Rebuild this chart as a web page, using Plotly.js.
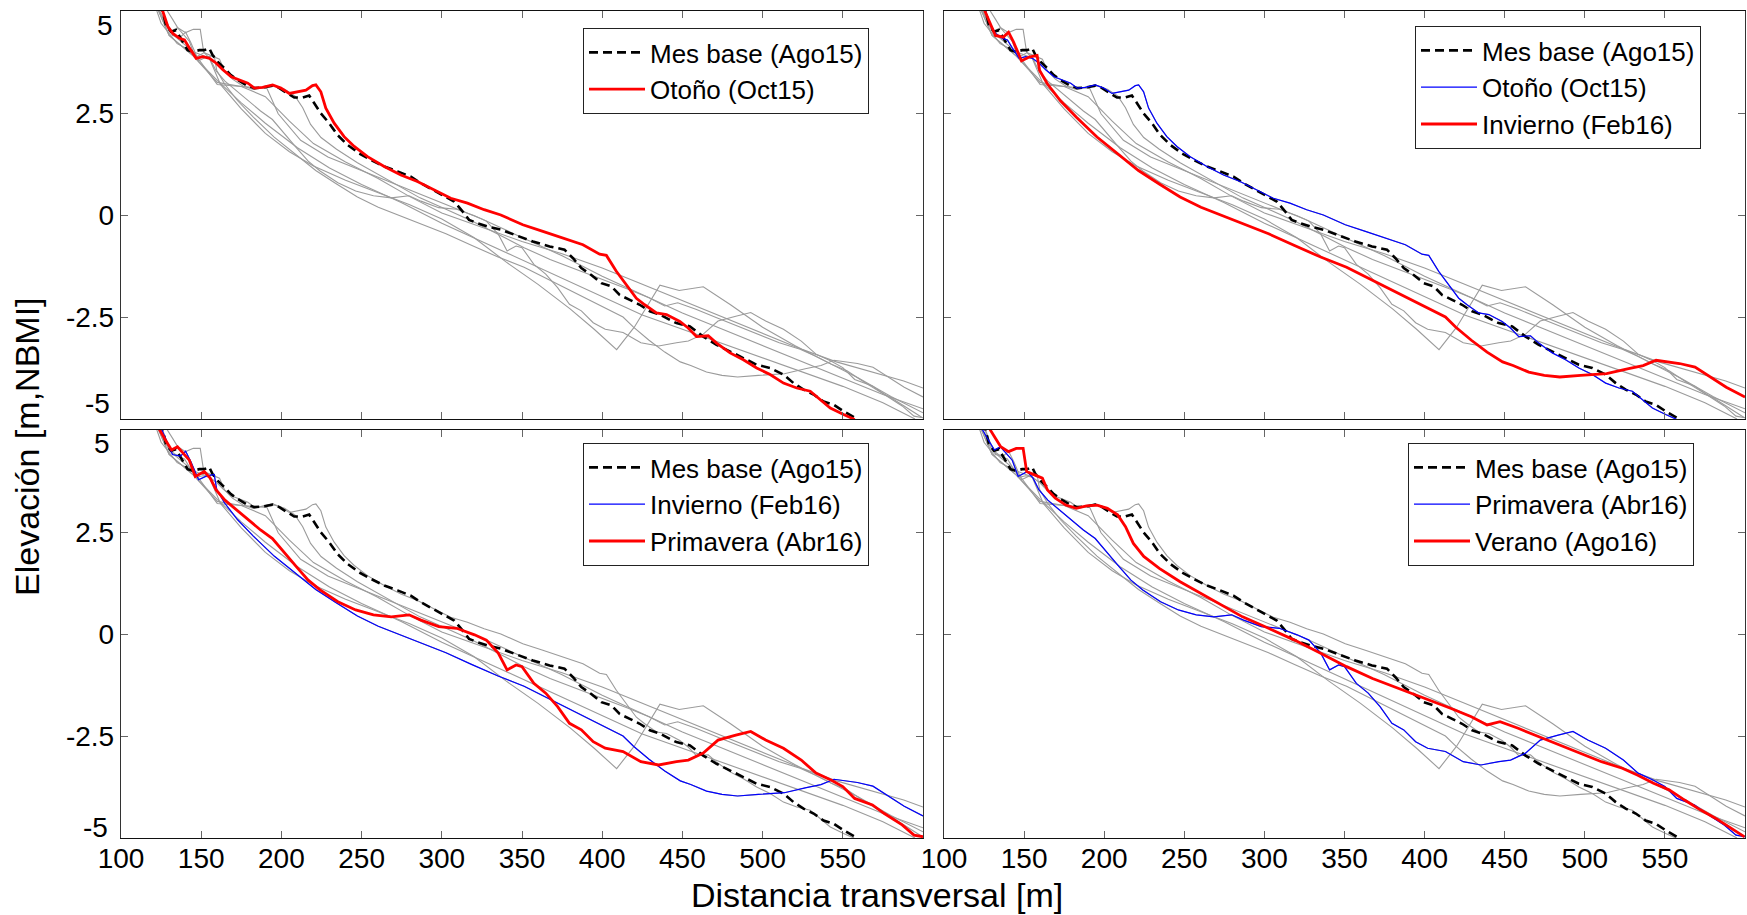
<!DOCTYPE html>
<html>
<head>
<meta charset="utf-8">
<script src="https://cdn.plot.ly/plotly-3.0.1.min.js"></script>
<style>html,body{margin:0;padding:0;background:#fff;}#chart{width:1747px;height:915px;}</style>
</head>
<body>
<div id="chart"></div>
<script>
// ---- Data ----
const xTickVals = [100,150,200,250,300,350,400,450,500,550];
const yTickVals = [-2.5,0,2.5];
const yTickText = ['-2.5','0','2.5'];

const legendMes = 'Mes base (Ago15)';
const legendOct15 = 'Otoño (Oct15)';
const legendFeb16 = 'Invierno (Feb16)';
const legendAbr16 = 'Primavera (Abr16)';
const legendAgo16 = 'Verano (Ago16)';

const ago15_x = [120,126,128,131.2,134.3,137.4,141.5,144.7,148.8,151.9,155,157.1,160.2,164.4,168.5,172.7,177.9,183.1,189.3,194.5,198.7,203.8,208,213.2,217.3,220.5,224.6,229.8,235,241.2,248.5,255.8,264.1,272.4,280.7,286.9,294.2,300.4,307.7,312.9,317,322.2,328.5,336.8,346.3,356.8,367.2,376.5,381.8,387,393.2,399.5,405.7,410.9,417.2,423.4,429.7,435.9,442.2,446.3,454.7,463,471.3,479.7,488,496.3,504.7,513,519.3,525.5,531.8,538,544.3,550.5,558.8,562];
const ago15_y = [5.5,5.0,4.66,4.49,4.53,4.33,4.04,4.0,4.04,4.04,4.09,3.92,3.76,3.6,3.43,3.31,3.19,3.11,3.13,3.17,3.11,2.98,2.88,2.88,2.93,2.74,2.49,2.25,1.96,1.72,1.51,1.35,1.19,1.07,0.94,0.78,0.62,0.49,0.33,0.09,-0.12,-0.2,-0.28,-0.36,-0.49,-0.65,-0.77,-0.85,-1.06,-1.3,-1.47,-1.67,-1.75,-1.96,-2.08,-2.2,-2.36,-2.44,-2.57,-2.65,-2.73,-2.98,-3.18,-3.34,-3.51,-3.67,-3.75,-3.91,-4.12,-4.28,-4.4,-4.57,-4.65,-4.81,-5.0,-5.2];

const oct15_x = [120,126,129.2,132.3,136.5,139.6,142.7,146.9,151,155.2,159.4,163.5,168.7,173.9,179.1,183.2,188.3,194.5,199.7,204.9,210.1,215.3,219.4,221.5,224.6,227.7,232.9,239.1,245.4,253.7,264.1,274.5,284.8,295.2,305.6,316,326.4,336.8,350.5,363,375.5,388,398.4,402.6,408.8,415.1,421.3,426.5,433.8,440.1,448.4,453.6,458.8,466.1,471.3,479.7,488,496.3,504.7,513,521.3,529.7,535.9,542.2,550.5,556.8,560];
const oct15_y = [5.5,5.0,4.62,4.45,4.33,4.29,4.09,3.84,3.88,3.84,3.72,3.56,3.39,3.31,3.23,3.11,3.13,3.19,3.11,2.98,3.02,3.06,3.17,3.19,3.02,2.62,2.25,1.92,1.68,1.43,1.19,0.98,0.82,0.62,0.41,0.29,0.13,0.0,-0.24,-0.4,-0.57,-0.73,-0.96,-0.99,-1.38,-1.71,-2.04,-2.2,-2.4,-2.44,-2.61,-2.77,-2.98,-2.96,-3.14,-3.38,-3.55,-3.75,-3.91,-4.12,-4.24,-4.32,-4.52,-4.73,-4.89,-5.0,-5.2];

const feb16_x = [120,125.6,128.9,132.1,137,140.3,143.5,148.4,153.2,158.1,159.7,164.6,172.7,182.5,195.5,208.4,221.4,234.4,247.4,260.4,273.4,286.4,302.6,318.8,335.1,351.3,367.5,383.8,400,413,419.5,429.2,439,448.7,455.2,465,474.7,484.4,497.4,513.6,526.6,536.4,544.5,559.1,568.8,578.6,588.3,600];
const feb16_y = [5.5,5.0,4.68,4.4,4.36,4.48,4.23,3.78,3.87,3.91,3.54,3.21,2.8,2.4,1.91,1.5,1.09,0.76,0.44,0.19,-0.01,-0.22,-0.46,-0.75,-1.03,-1.28,-1.6,-1.93,-2.26,-2.5,-2.75,-3.07,-3.36,-3.6,-3.69,-3.85,-3.93,-3.97,-3.93,-3.89,-3.77,-3.69,-3.56,-3.64,-3.73,-3.97,-4.22,-4.46];

const abr16_x = [120,124.1,127.8,131.5,135.2,138.9,142.6,146.3,151.9,155.6,159.3,164.8,172.2,179.6,187,194.4,201.9,209.3,216.7,224.1,235.2,246.3,257.4,268.5,279.6,287,298.1,309.3,320.4,327.8,335.2,340.7,346.3,350,357.4,364.8,372.2,379.6,387,394.4,401.9,413,424.1,435.2,446.3,453.7,463,472.2,483.3,492.6,501.9,513,524.1,533.3,542.6,550,557.4,568.5,575.9,587,594.4,600];
const abr16_y = [5.5,5.0,4.75,4.51,4.59,4.43,4.26,3.86,3.98,3.82,3.53,3.28,3.04,2.79,2.55,2.34,1.98,1.65,1.32,1.08,0.79,0.59,0.47,0.42,0.47,0.34,0.18,0.14,-0.02,-0.15,-0.47,-0.88,-0.76,-0.8,-1.21,-1.45,-1.78,-2.19,-2.35,-2.64,-2.8,-2.88,-3.13,-3.21,-3.13,-3.09,-2.92,-2.6,-2.48,-2.39,-2.6,-2.8,-3.09,-3.41,-3.58,-3.74,-4.03,-4.19,-4.4,-4.68,-4.93,-4.97];

const ago16_x = [125,128.9,132.1,135.4,140.3,145.1,149.4,151.6,156.5,161.4,164.6,169.5,176,182.5,189,195.5,202,208.4,213.3,218.2,224.7,234.4,247.4,260.4,273.4,286.4,302.6,318.8,335.1,351.3,367.5,383.8,400,416.2,429.2,439,447.1,458.4,471.4,484.4,497.4,510.4,523.4,533.1,542.9,552.6,562.3,572.1,581.8,591.6,599.7];
const ago16_y = [5.5,5.0,4.8,4.59,4.47,4.55,4.55,3.98,3.9,3.82,3.53,3.33,3.16,3.08,3.14,3.16,3.08,2.92,2.63,2.22,1.9,1.61,1.28,1.0,0.71,0.42,0.14,-0.15,-0.47,-0.8,-1.09,-1.33,-1.58,-1.82,-2.03,-2.23,-2.15,-2.31,-2.52,-2.72,-2.92,-3.13,-3.29,-3.46,-3.66,-3.82,-4.07,-4.31,-4.52,-4.76,-4.97];

// other monthly profiles (grey)
const gris1_x = [118,125,135,145,155,162,175,190,205,220,240,260,280,300,320,340,360,380,395,409,420,436,448,463,480,500,520,540,560,580,600];
const gris1_y = [5.5,4.7,4.2,4.0,3.85,3.2,2.6,2.0,1.55,1.2,0.85,0.55,0.25,-0.1,-0.55,-1.15,-1.7,-2.3,-2.8,-3.3,-2.75,-1.72,-1.85,-1.76,-2.2,-2.75,-3.2,-3.6,-4.0,-4.45,-4.85];
const gris2_x = [118,130,145,160,175,190,205,220,240,260,280,300,325,350,375,400,425,450,475,500,525,546,567,588,600];
const gris2_y = [5.5,4.4,3.9,3.25,3.15,2.9,2.3,1.75,1.3,0.9,0.45,0.05,-0.3,-0.65,-0.95,-1.3,-1.7,-2.1,-2.5,-2.9,-3.3,-3.6,-3.84,-4.07,-4.24];
const gris3_x = [118,130,145,160,175,190,210,230,250,275,300,325,350,375,400,425,450,475,500,525,550,575,595];
const gris3_y = [5.5,4.4,3.9,3.3,2.75,2.25,1.65,1.15,0.75,0.3,-0.2,-0.65,-1.1,-1.55,-2.0,-2.45,-2.8,-3.15,-3.5,-3.85,-4.2,-4.6,-5.0];
const gris4_x = [118,130,145,160,175,191,198,212,229,250,276,300,325,350,375,400,425,450,475,500,525,550,575,600];
const gris4_y = [5.5,4.5,4.0,3.2,3.15,3.1,2.48,1.83,1.42,1.09,0.69,0.3,-0.1,-0.55,-1.0,-1.5,-1.95,-2.4,-2.8,-3.2,-3.6,-4.0,-4.4,-4.75];

// ---- Build ----
const GREY = '#9b9b9b';
const greyProfiles = [
  [gris1_x,gris1_y],[gris2_x,gris2_y],[gris3_x,gris3_y],[gris4_x,gris4_y],
  [oct15_x,oct15_y],[feb16_x,feb16_y],[abr16_x,abr16_y],[ago16_x,ago16_y]
];
const panels = [
  {ax:'', leg:'legend', blue:null, red:[oct15_x,oct15_y,legendOct15]},
  {ax:'2', leg:'legend2', blue:[oct15_x,oct15_y,legendOct15], red:[feb16_x,feb16_y,legendFeb16]},
  {ax:'3', leg:'legend3', blue:[feb16_x,feb16_y,legendFeb16], red:[abr16_x,abr16_y,legendAbr16]},
  {ax:'4', leg:'legend4', blue:[abr16_x,abr16_y,legendAbr16], red:[ago16_x,ago16_y,legendAgo16]}
];
const traces = [];
panels.forEach(p => {
  const xa = 'x'+p.ax, ya = 'y'+p.ax;
  greyProfiles.forEach(g => traces.push({x:g[0], y:g[1], xaxis:xa, yaxis:ya, mode:'lines', showlegend:false,
    line:{color:GREY, width:1.1}, hoverinfo:'skip'}));
  traces.push({x:ago15_x, y:ago15_y, xaxis:xa, yaxis:ya, mode:'lines', name:legendMes, legend:p.leg,
    line:{color:'#000000', width:2.6, dash:'9px,5px'}});
  if (p.blue) traces.push({x:p.blue[0], y:p.blue[1], xaxis:xa, yaxis:ya, mode:'lines', name:p.blue[2], legend:p.leg,
    line:{color:'#0000ff', width:1.2}});
  traces.push({x:p.red[0], y:p.red[1], xaxis:xa, yaxis:ya, mode:'lines', name:p.red[2], legend:p.leg,
    line:{color:'#ff0000', width:2.8}});
});

const W = 1747, H = 915;
const FONT = 'Liberation Sans, Arial, sans-serif';
const xL = [121/W, 923/W], xR = [944/W, 1745/W];
const yT = [1-419/H, 1-11/H], yB = [1-838/H, 1-430/H];

function xax(dom, labels, anchor){
  return {domain:dom, range:[100,600], anchor:anchor, tickmode:'array', tickvals:xTickVals,
    showticklabels:labels, ticks:'inside', ticklen:7, tickwidth:1, tickcolor:'#666',
    showline:true, linecolor:'#111', linewidth:1.2, mirror:'allticks', showgrid:false, zeroline:false,
    ticklabelstandoff:-5,
    tickfont:{family:FONT, size:28, color:'#000'}, fixedrange:true};
}
function yax(dom, labels, anchor){
  return {domain:dom, range:[-5,5], anchor:anchor, tickmode:'array', tickvals:yTickVals, ticktext:yTickText,
    showticklabels:labels, ticks:'inside', ticklen:7, tickwidth:1, tickcolor:'#666',
    showline:true, linecolor:'#333', linewidth:1.2, mirror:'allticks', showgrid:false, zeroline:false,
    tickfont:{family:FONT, size:28, color:'#000'}, fixedrange:true};
}
function leg(x, y){
  return {x:x, y:y, xanchor:'left', yanchor:'top', bgcolor:'#ffffff', bordercolor:'#222', borderwidth:1,
    itemwidth:56, font:{family:FONT, size:26, color:'#000'}, traceorder:'normal'};
}
function ann(text, px, py, xanchor){
  return {text:text, x:px/W, y:1-py/H, xref:'paper', yref:'paper', xanchor:xanchor, yanchor:'middle',
    showarrow:false, font:{family:FONT, size:28, color:'#000'}};
}

const layout = {
  width:W, height:H, margin:{l:0,r:0,t:0,b:0}, paper_bgcolor:'#fff', plot_bgcolor:'#fff',
  font:{family:FONT},
  xaxis:xax(xL,false,'y'), yaxis:yax(yT,true,'x'),
  xaxis2:xax(xR,false,'y2'), yaxis2:yax(yT,false,'x2'),
  xaxis3:xax(xL,true,'y3'), yaxis3:yax(yB,true,'x3'),
  xaxis4:xax(xR,true,'y4'), yaxis4:yax(yB,false,'x4'),
  legend:leg(583/W, 1-28/H), legend2:leg(1415/W, 1-26/H),
  legend3:leg(583/W, 1-443/H), legend4:leg(1408/W, 1-443/H),
  annotations:[
    ann('5',115,25,'right'), ann('-5',112,403,'right'),
    ann('5',112,443,'right'), ann('-5',110,827,'right'),
    {text:'Distancia transversal [m]', x:877/W, y:1-895/H, xref:'paper', yref:'paper', xanchor:'center', yanchor:'middle',
      showarrow:false, font:{family:FONT, size:34, color:'#000'}},
    {text:'Elevación [m,NBMI]', x:27/W, y:1-447/H, xref:'paper', yref:'paper', xanchor:'center', yanchor:'middle',
      textangle:-90, showarrow:false, font:{family:FONT, size:34, color:'#000'}}
  ]
};
Plotly.newPlot('chart', traces, layout, {staticPlot:true, displayModeBar:false});
</script>
</body>
</html>
